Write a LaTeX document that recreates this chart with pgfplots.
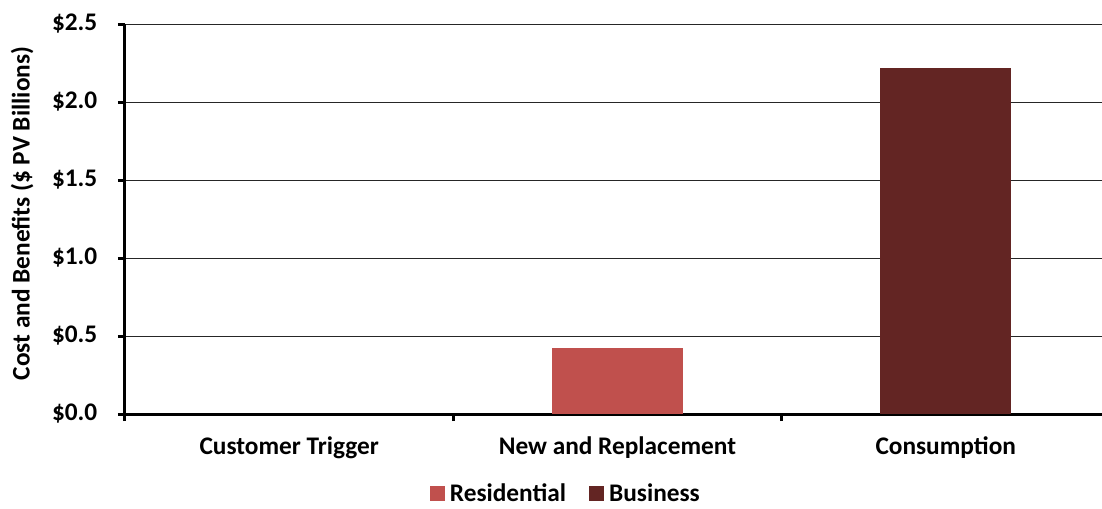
\documentclass[border=0pt]{standalone}
\usepackage{fontspec}
\setmainfont{Carlito}
\usepackage{pgfplots}
\pgfplotsset{compat=1.18}
\definecolor{resid}{HTML}{C0504D}
\definecolor{busi}{HTML}{632523}
\begin{document}
\begin{tikzpicture}
\begin{axis}[
  at={(0pt,0pt)}, anchor=south west,
  scale only axis, width=732.75pt, height=292.5pt,
  xmin=-0.5, xmax=2.476, ymin=0, ymax=2.5,
  ybar stacked, bar width=0.4,
  axis x line*=bottom, axis y line*=left,
  axis line style={line width=2.25pt, -},
  tick align=outside,
  xtick={0,1,2},
  xticklabels={Customer Trigger, New and Replacement, Consumption},
  major x tick style={draw=none},
  minor xtick={-0.5,0.5,1.5},
  minor x tick style={line width=2.25pt, black},
  minor tick length=5.25pt,
  ytick={0,0.5,1,1.5,2,2.5},
  yticklabels={\$0.0,\$0.5,\$1.0,\$1.5,\$2.0,\$2.5},
  major y tick style={line width=2.25pt, black},
  major tick length=5.25pt,
  ymajorgrids, grid style={line width=0.75pt, black!85},
  tick label style={font=\bfseries\fontsize{19}{23}\selectfont},
  yticklabel style={xshift=-12pt},
  xticklabel style={yshift=-8.5pt},
  ylabel={Cost and Benefits (\$ PV Billions)},
  ylabel style={at={(axis description cs:-0.1054,0.514)}, anchor=center,
    font=\bfseries\fontsize{19}{23}\selectfont},
  legend columns=2,
  legend style={at={(axis description cs:0.4514,-0.203)}, anchor=center,
    draw=none, font=\bfseries\fontsize{19}{23}\selectfont,
    /tikz/every odd column/.append style={column sep=2pt},
    /tikz/every even column/.append style={column sep=15pt}},
  legend image code/.code={\fill[#1] (0pt,-5.6pt) rectangle (11.25pt,5.6pt);},
]
\addplot[fill=resid, draw=none] coordinates {(0,0) (1,0.42) (2,0)};
\addlegendentry{Residential}
\addplot[fill=busi, draw=none] coordinates {(0,0) (1,0) (2,2.22)};
\addlegendentry{Business}
\end{axis}
\pgfresetboundingbox
\path[use as bounding box] (-93.75pt,-70.5pt) rectangle (732.75pt,310.5pt);
\end{tikzpicture}
\end{document}
